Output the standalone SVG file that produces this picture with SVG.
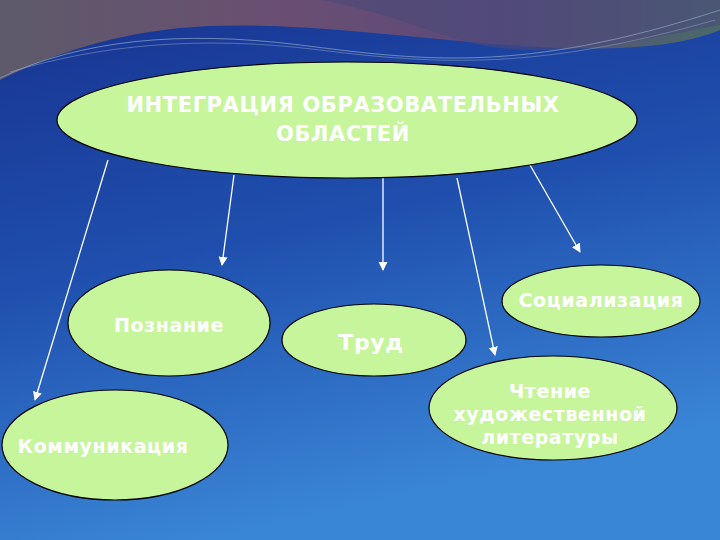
<svg xmlns="http://www.w3.org/2000/svg" width="720" height="540" viewBox="0 0 720 540">
<defs>
<linearGradient id="bg" x1="0" y1="0" x2="0.3" y2="1"><stop offset="0" stop-color="#18328f"/><stop offset="0.5" stop-color="#1f4fae"/><stop offset="1" stop-color="#3a86d6"/></linearGradient>
<linearGradient id="ban" x1="0" y1="0" x2="1" y2="0"><stop offset="0" stop-color="#5e5a6a"/><stop offset="0.4" stop-color="#6a4e72"/><stop offset="0.7" stop-color="#5a4a7a"/><stop offset="1" stop-color="#4a6a6a"/></linearGradient>
<marker id="ah" viewBox="0 0 10 10" refX="9" refY="5" markerWidth="7" markerHeight="7" orient="auto"><path d="M0,0 L10,5 L0,10 z" fill="#fff"/></marker>
</defs>
<style>
.n{fill:#c6f59c;stroke:#000;stroke-width:1.2}
.t{font-family:"DejaVu Sans",sans-serif;font-weight:bold;fill:#fff;text-anchor:middle;letter-spacing:0.6px}
.c line{stroke:#fff;stroke-width:1.3;marker-end:url(#ah)}
</style>
<rect width="720" height="540" fill="url(#bg)"/>
<path d="M0,0 H720 V30 C660,55 560,50 470,42 C360,32 260,20 180,28 C100,36 40,60 0,80 Z" fill="url(#ban)"/>
<path d="M320,0 C380,10 420,30 480,45 C560,60 640,40 720,25 V0 Z" fill="#4b4a7a" opacity="0.6"/>
<path d="M0,78 C80,40 180,30 300,45 C420,60 520,75 720,10" fill="none" stroke="#8fa6c8" stroke-width="1" opacity="0.7"/>
<path d="M10,72 C100,45 200,35 320,50 C440,65 540,70 715,20" fill="none" stroke="#8fa6c8" stroke-width="1" opacity="0.5"/>
<g class="c">
<line x1="108" y1="160" x2="35" y2="400"/>
<line x1="234" y1="175" x2="222" y2="265"/>
<line x1="383" y1="178" x2="383" y2="270"/>
<line x1="457" y1="178" x2="495" y2="355"/>
<line x1="530" y1="165" x2="580" y2="252"/>
</g>
<g id="main"><ellipse class="n" cx="347" cy="120" rx="290" ry="58"/><text class="t" x="343" y="112" font-size="21">ИНТЕГРАЦИЯ ОБРАЗОВАТЕЛЬНЫХ</text><text class="t" x="343" y="141" font-size="21">ОБЛАСТЕЙ</text></g>
<g id="poznanie"><ellipse class="n" cx="169" cy="323" rx="101" ry="53"/><text class="t" x="169" y="332" font-size="19">Познание</text></g>
<g id="komm"><ellipse class="n" cx="115" cy="445" rx="113" ry="55"/><text class="t" x="103" y="453" font-size="19">Коммуникация</text></g>
<g id="trud"><ellipse class="n" cx="374" cy="340" rx="92" ry="36"/><text class="t" x="371" y="350" font-size="22">Труд</text></g>
<g id="soc"><ellipse class="n" cx="601" cy="301" rx="99" ry="36"/><text class="t" x="601" y="307" font-size="19">Социализация</text></g>
<g id="chtenie"><ellipse class="n" cx="553" cy="408" rx="124" ry="52"/><text class="t" x="550" y="398" font-size="19">Чтение</text><text class="t" x="550" y="421" font-size="19">художественной</text><text class="t" x="550" y="444" font-size="19">литературы</text></g>
</svg>
